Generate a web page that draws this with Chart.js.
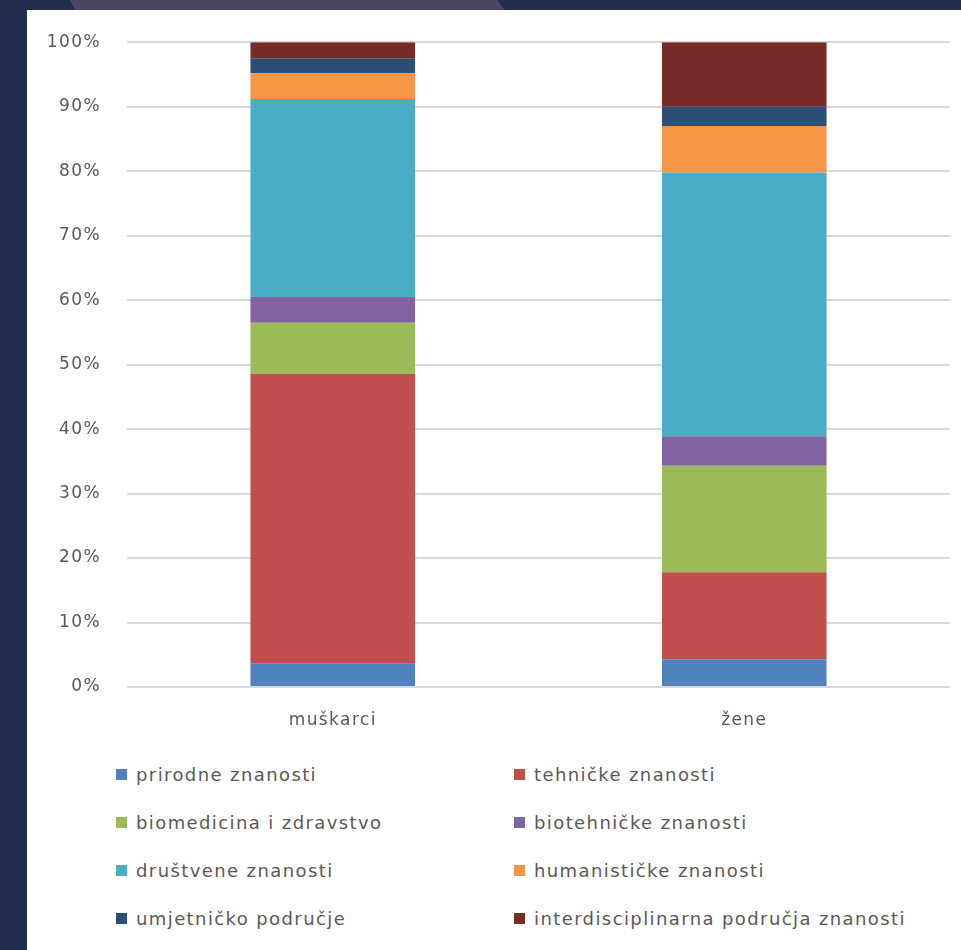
<!DOCTYPE html>
<html lang="hr">
<head>
  <meta charset="UTF-8" />
  <title>Područja znanosti po spolu</title>
  <style>
    body {
      margin: 0;
      width: 961px;
      height: 950px;
      background: #202c4e;
      position: relative;
      overflow: hidden;
      font-family: 'DejaVu Sans', sans-serif;
    }
    #band {
      position: absolute;
      left: 0; top: 0;
      width: 961px; height: 10px;
      background: #4e4562;
      clip-path: polygon(70px 0, 497px 0, 505px 10px, 75px 10px);
    }
    #panel {
      position: absolute;
      left: 27px; top: 10px;
      width: 934px; height: 940px;
      background: #fff;
    }
    #chartBox {
      position: absolute;
      left: 0; top: -4px;
      width: 934px; height: 734px;
    }
    #legend {
      position: absolute;
      left: 89px; top: 752px;
      display: grid;
      grid-template-columns: 398px 400px;
      grid-auto-rows: 48px;
      color: #595959;
      font-size: 18px;
      letter-spacing: 1.4px;
    }
    #legend div { display: flex; align-items: center; height: 24px; }
    #legend span.box {
      display: inline-block;
      width: 11px; height: 11px;
      margin-right: 9px;
    }
  </style>
  <script src="https://cdn.jsdelivr.net/npm/chart.js"></script>
</head>
<body>
  <div id="band"></div>
  <div id="panel">
    <div id="chartBox"><canvas id="chart"></canvas></div>
    <div id="legend"></div>
  </div>
  <script>
    // categories and series (percent of each group)
    const categories = ["muškarci", "žene"];
    const seriesNames = [
      "prirodne znanosti",
      "tehničke znanosti",
      "biomedicina i zdravstvo",
      "biotehničke znanosti",
      "društvene znanosti",
      "humanističke znanosti",
      "umjetničko područje",
      "interdisciplinarna područja znanosti"
    ];
    const prirodne      = [3.7, 4.3];
    const tehnicke      = [44.9, 13.5];
    const biomedicina   = [7.9, 16.5];
    const biotehnicke   = [4.0, 4.6];
    const drustvene     = [30.7, 40.9];
    const humanisticke  = [4.0, 7.2];
    const umjetnicko    = [2.3, 3.0];
    const interdiscipl  = [2.5, 10.0];
    const yTicks = [0, 10, 20, 30, 40, 50, 60, 70, 80, 90, 100];

    const seriesValues = [prirodne, tehnicke, biomedicina, biotehnicke,
                          drustvene, humanisticke, umjetnicko, interdiscipl];
    const colors = ["#4f81bd", "#c0504d", "#9bbb59", "#8064a2",
                    "#4bacc6", "#f79646", "#2c4d75", "#772c2a"];

    const datasets = seriesNames.map((name, i) => ({
      label: name,
      data: seriesValues[i],
      backgroundColor: colors[i],
      borderWidth: 0
    }));

    const textColor = "#595959";
    const font = { family: "'DejaVu Sans', sans-serif", size: 17 };

    // wider letter spacing like the original rendering
    const spacing = {
      id: "spacing",
      beforeLayout: c => { c.ctx.letterSpacing = "1.4px"; },
      beforeDraw: c => { c.ctx.letterSpacing = "1.4px"; }
    };

    const chart = new Chart(document.getElementById("chart"), {
      type: "bar",
      data: { labels: categories, datasets: datasets },
      plugins: [spacing],
      options: {
        responsive: true,
        maintainAspectRatio: false,
        animation: false,
        layout: { padding: { top: 24, right: 11, left: 0, bottom: 0 } },
        plugins: { legend: { display: false }, tooltip: { enabled: false } },
        datasets: { bar: { categoryPercentage: 1, barPercentage: 0.4 } },
        scales: {
          x: {
            stacked: true,
            grid: { display: false },
            border: { display: false },
            ticks: { color: textColor, font: font, padding: 15 },
            afterFit: s => { s.height = 53; }
          },
          y: {
            stacked: true,
            min: 0,
            max: 100,
            afterBuildTicks: s => { s.ticks = yTicks.map(v => ({ value: v })); },
            grid: { color: "#d9d9d9", lineWidth: 2, drawTicks: false },
            border: { display: false },
            ticks: {
              color: textColor,
              font: font,
              padding: 26,
              callback: v => v + "%"
            },
            afterFit: s => { s.width = 100; }
          }
        }
      }
    });

    // legend in two columns, built from the datasets
    const legend = document.getElementById("legend");
    datasets.forEach(ds => {
      const item = document.createElement("div");
      const box = document.createElement("span");
      box.className = "box";
      box.style.background = ds.backgroundColor;
      item.appendChild(box);
      item.appendChild(document.createTextNode(ds.label));
      legend.appendChild(item);
    });
  </script>
</body>
</html>
